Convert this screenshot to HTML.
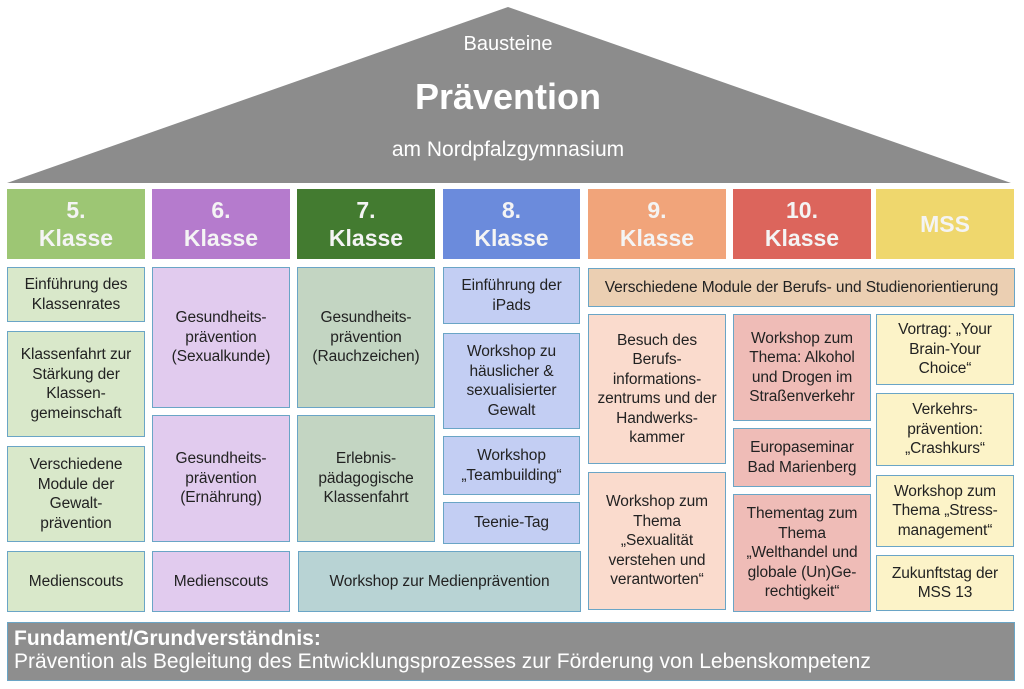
<!DOCTYPE html>
<html><head><meta charset="utf-8"><style>
*{margin:0;padding:0;box-sizing:border-box}
body{width:1024px;height:689px;background:#fff;position:relative;overflow:hidden;font-family:"Liberation Sans",sans-serif}
.b{position:absolute;display:flex;align-items:center;justify-content:center;text-align:center;font-size:15.5px;line-height:19.5px;color:#222;border:1.5px solid #6aa5c6;letter-spacing:-0.1px}
.h{position:absolute;display:flex;align-items:center;justify-content:center;text-align:center;font-size:23px;line-height:28px;font-weight:bold;color:#f4f4f4}
.g{background:#d9e8ca}.p{background:#e1cbee}.s{background:#c3d5c2}.l{background:#c3cef3}.o{background:#fadbcd}.r{background:#efbcb7}.y{background:#fcf3c8}
</style></head><body>
<svg width="1024" height="689" style="position:absolute;left:0;top:0">
<polygon points="7,183 508,7 1011,183" fill="#8c8c8c"/>
</svg>
<div style="position:absolute;left:0;width:1016px;top:32px;text-align:center;color:#fff;font-size:20px;line-height:24px">Bausteine</div>
<div style="position:absolute;left:0;width:1016px;top:76px;text-align:center;color:#fff;font-size:36px;line-height:42px;font-weight:bold">Prävention</div>
<div style="position:absolute;left:0;width:1016px;top:138px;text-align:center;color:#fff;font-size:21px;line-height:24px">am Nordpfalzgymnasium</div>

<div class="h" style="left:7px;top:189px;width:138px;height:70px;background:#9dc674">5.<br>Klasse</div>
<div class="h" style="left:152px;top:189px;width:138px;height:70px;background:#b57bcd">6.<br>Klasse</div>
<div class="h" style="left:297px;top:189px;width:138px;height:70px;background:#437b30">7.<br>Klasse</div>
<div class="h" style="left:443px;top:189px;width:137px;height:70px;background:#6b8bdc">8.<br>Klasse</div>
<div class="h" style="left:588px;top:189px;width:138px;height:70px;background:#f1a47a">9.<br>Klasse</div>
<div class="h" style="left:733px;top:189px;width:138px;height:70px;background:#dc655c">10.<br>Klasse</div>
<div class="h" style="left:876px;top:189px;width:138px;height:70px;background:#efd76d">MSS</div>

<div class="b g" style="left:7px;top:267px;width:138px;height:55px">Einführung des<br>Klassenrates</div>
<div class="b g" style="left:7px;top:331px;width:138px;height:106px">Klassenfahrt zur<br>Stärkung der<br>Klassen-<br>gemeinschaft</div>
<div class="b g" style="left:7px;top:446px;width:138px;height:96px">Verschiedene<br>Module der<br>Gewalt-<br>prävention</div>
<div class="b g" style="left:7px;top:551px;width:138px;height:61px">Medienscouts</div>

<div class="b p" style="left:152px;top:267px;width:138px;height:141px">Gesundheits-<br>prävention<br>(Sexualkunde)</div>
<div class="b p" style="left:152px;top:415px;width:138px;height:127px">Gesundheits-<br>prävention<br>(Ernährung)</div>
<div class="b p" style="left:152px;top:551px;width:138px;height:61px">Medienscouts</div>

<div class="b s" style="left:297px;top:267px;width:138px;height:141px">Gesundheits-<br>prävention<br>(Rauchzeichen)</div>
<div class="b s" style="left:297px;top:415px;width:138px;height:127px">Erlebnis-<br>pädagogische<br>Klassenfahrt</div>
<div class="b" style="left:298px;top:551px;width:283px;height:61px;background:#b8d3d4">Workshop zur Medienprävention</div>

<div class="b l" style="left:443px;top:267px;width:137px;height:57px">Einführung der<br>iPads</div>
<div class="b l" style="left:443px;top:333px;width:137px;height:96px">Workshop zu<br>häuslicher &amp;<br>sexualisierter<br>Gewalt</div>
<div class="b l" style="left:443px;top:436px;width:137px;height:59px">Workshop<br>„Teambuilding“</div>
<div class="b l" style="left:443px;top:502px;width:137px;height:42px">Teenie-Tag</div>

<div class="b" style="left:588px;top:268px;width:427px;height:39px;background:#ebcfb2">Verschiedene Module der Berufs- und Studienorientierung</div>

<div class="b o" style="left:588px;top:314px;width:138px;height:150px">Besuch des<br>Berufs-<br>informations-<br>zentrums und der<br>Handwerks-<br>kammer</div>
<div class="b o" style="left:588px;top:472px;width:138px;height:138px">Workshop zum<br>Thema<br>„Sexualität<br>verstehen und<br>verantworten“</div>

<div class="b r" style="left:733px;top:314px;width:138px;height:107px">Workshop zum<br>Thema: Alkohol<br>und Drogen im<br>Straßenverkehr</div>
<div class="b r" style="left:733px;top:428px;width:138px;height:59px">Europaseminar<br>Bad Marienberg</div>
<div class="b r" style="left:733px;top:494px;width:138px;height:118px">Thementag zum<br>Thema<br>„Welthandel und<br>globale (Un)Ge-<br>rechtigkeit“</div>

<div class="b y" style="left:876px;top:314px;width:138px;height:71px">Vortrag: „Your<br>Brain-Your<br>Choice“</div>
<div class="b y" style="left:876px;top:393px;width:138px;height:73px">Verkehrs-<br>prävention:<br>„Crashkurs“</div>
<div class="b y" style="left:876px;top:475px;width:138px;height:72px">Workshop zum<br>Thema „Stress-<br>management“</div>
<div class="b y" style="left:876px;top:555px;width:138px;height:56px">Zukunftstag der<br>MSS 13</div>

<div style="position:absolute;left:7px;top:622px;width:1008px;height:59px;background:#8e8e8e;border:1.5px solid #6aa5c6;color:#fff;font-size:21px;line-height:23px;padding:4px 0 0 6px"><b>Fundament/Grundverständnis:</b><br>Prävention als Begleitung des Entwicklungsprozesses zur Förderung von Lebenskompetenz</div>
</body></html>
